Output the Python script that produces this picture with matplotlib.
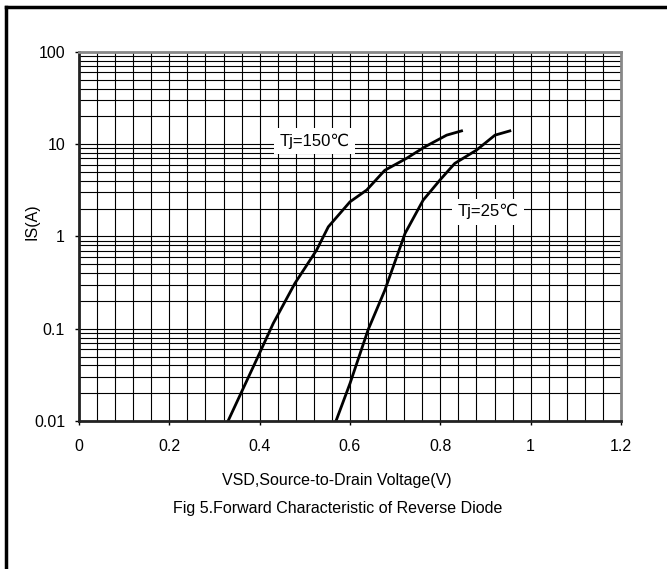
import numpy as np
import matplotlib.pyplot as plt
from matplotlib.ticker import MultipleLocator, LogLocator, NullFormatter
from matplotlib.lines import Line2D

# Tj = 150C curve
vsd_150 = [0.330, 0.393, 0.430, 0.478, 0.526, 0.552, 0.600, 0.637, 0.677, 0.725, 0.766, 0.814, 0.847]
is_150 = [0.01, 0.046, 0.114, 0.31, 0.71, 1.27, 2.37, 3.18, 5.2, 7.0, 9.35, 12.5, 13.9]

# Tj = 25C curve
vsd_25 = [0.569, 0.600, 0.640, 0.677, 0.722, 0.762, 0.799, 0.832, 0.880, 0.921, 0.954]
is_25 = [0.01, 0.0255, 0.097, 0.26, 1.08, 2.47, 4.07, 6.18, 8.6, 12.5, 13.9]

xticks = [0, 0.2, 0.4, 0.6, 0.8, 1, 1.2]
xtick_labels = ['0', '0.2', '0.4', '0.6', '0.8', '1', '1.2']
yticks = [0.01, 0.1, 1, 10, 100]
ytick_labels = ['0.01', '0.1', '1', '10', '100']

plt.rcParams['font.family'] = ['Liberation Sans', 'DejaVu Sans']

fig = plt.figure(figsize=(6.67, 5.69), dpi=100)
ax = fig.add_axes([0.1184, 0.260, 0.8126, 0.649])

ax.set_yscale('log')
ax.set_xlim(0, 1.2)
ax.set_ylim(0.01, 100)

ax.set_xticks(xticks)
ax.set_xticklabels(xtick_labels)
ax.xaxis.set_minor_locator(MultipleLocator(0.04))
ax.set_yticks(yticks)
ax.set_yticklabels(ytick_labels)
ax.yaxis.set_minor_locator(LogLocator(base=10, subs=np.arange(2, 10)))
ax.yaxis.set_minor_formatter(NullFormatter())

ax.grid(True, which='both', color='black', linewidth=0.8)
ax.set_axisbelow(True)

ax.tick_params(which='major', direction='out', length=3, width=1, labelsize=11.5, pad=7)
ax.tick_params(axis='x', which='major', pad=10)
ax.tick_params(which='minor', length=0)

for side in ['left', 'bottom']:
    ax.spines[side].set_color('#222222')
    ax.spines[side].set_linewidth(2)
for side in ['top', 'right']:
    ax.spines[side].set_color('#888888')
    ax.spines[side].set_linewidth(2)

ax.plot(vsd_150, is_150, color='black', linewidth=2)
ax.plot(vsd_25, is_25, color='black', linewidth=2)

box = dict(facecolor='white', edgecolor='none', pad=4)
ax.text(0.522, 10.8, 'Tj=150\u2103', fontsize=12, ha='center', va='center', bbox=box)
ax.text(0.905, 1.85, 'Tj=25\u2103', fontsize=12, ha='center', va='center', bbox=box)

fig.text(0.048, 0.61, 'IS(A)', rotation=90, fontsize=11.5, ha='center', va='center')
fig.text(0.505, 0.156, 'VSD,Source-to-Drain Voltage(V)', fontsize=11.5, ha='center', va='center')
fig.text(0.507, 0.107, 'Fig 5.Forward Characteristic of Reverse Diode', fontsize=11.5, ha='center', va='center')

# outer frame (top and left edges only are visible)
fig.add_artist(Line2D([0.009, 1.0], [0.988, 0.988], color='black', linewidth=2.5, transform=fig.transFigure))
fig.add_artist(Line2D([0.009, 0.009], [0.0, 0.988], color='black', linewidth=2.5, transform=fig.transFigure))

fig.savefig('out.png', dpi=100)
